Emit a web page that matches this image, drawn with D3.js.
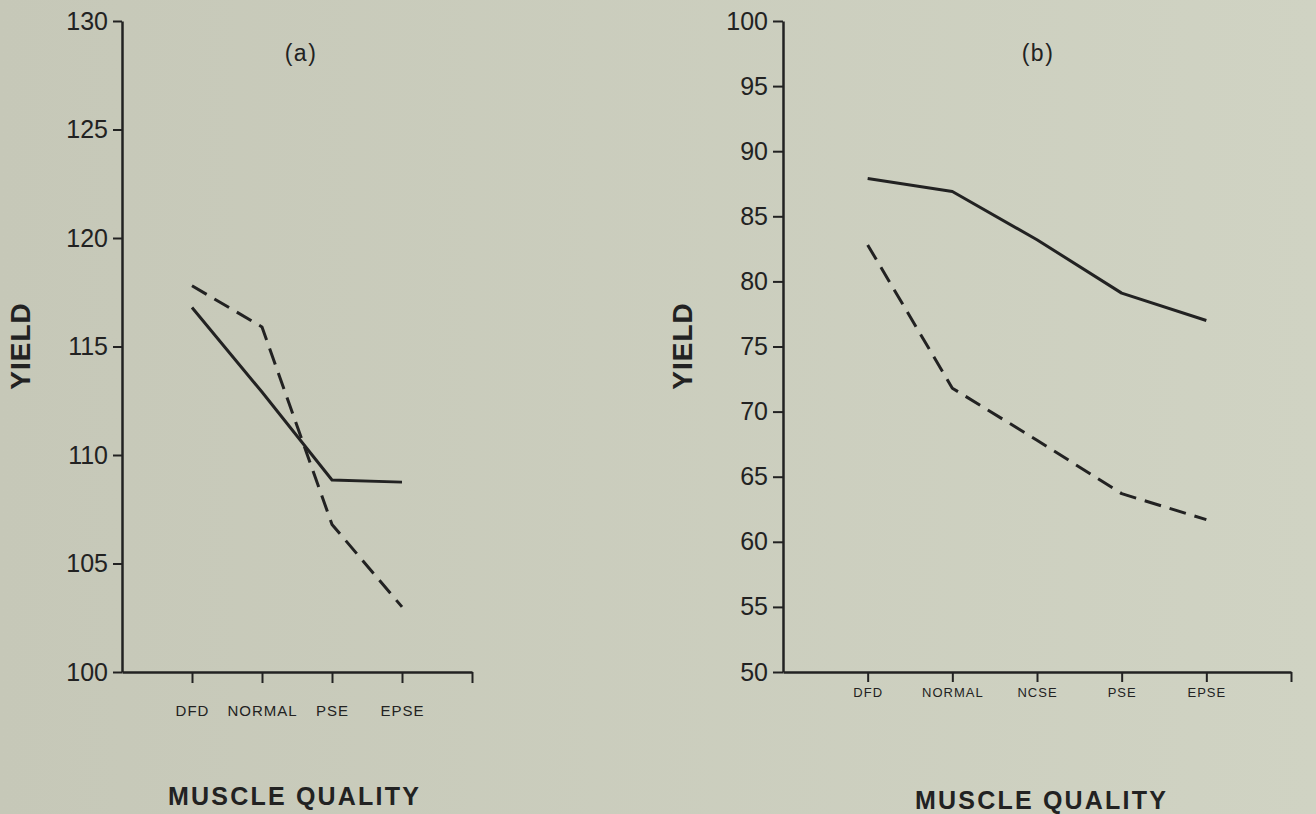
<!DOCTYPE html>
<html>
<head>
<meta charset="utf-8">
<script src="https://cdn.jsdelivr.net/npm/d3@7"></script>
<style>
  html, body { margin: 0; padding: 0; }
  body { width: 1316px; height: 814px; overflow: hidden; }
  svg { display: block; }
  text { font-family: "Liberation Sans", Arial, Helvetica, sans-serif; fill: #222; }
</style>
</head>
<body>
<svg id="chart" width="1316" height="814"></svg>
<script>
// ---- data ----
const categoriesA = ["DFD", "NORMAL", "PSE", "EPSE"];
const solidA = [116.8, 112.9, 108.85, 108.75];
const dashedA = [117.8, 115.9, 106.8, 103.0];
const yTicksA = [100, 105, 110, 115, 120, 125, 130];

const categoriesB = ["DFD", "NORMAL", "NCSE", "PSE", "EPSE"];
const solidB = [87.9, 86.9, 83.2, 79.1, 77.0];
const dashedB = [82.8, 71.8, 67.8, 63.7, 61.7];
const yTicksB = [50, 55, 60, 65, 70, 75, 80, 85, 90, 95, 100];

const svg = d3.select("#chart");
const defs = svg.append("defs");
const grad = defs.append("linearGradient").attr("id", "bg").attr("x1", 0).attr("x2", 1).attr("y1", 0).attr("y2", 0);
grad.append("stop").attr("offset", 0).attr("stop-color", "#c6c8b8");
grad.append("stop").attr("offset", 1).attr("stop-color", "#d0d3c3");
svg.append("rect").attr("width", 1316).attr("height", 814).attr("fill", "url(#bg)");

const ink = "#222";

function panel(cfg) {
  const g = svg.append("g");
  const n = cfg.categories.length;
  const x = d3.scaleLinear().domain([0, n + 1]).range([cfg.x0, cfg.x1]);
  const y = d3.scaleLinear().domain(cfg.yDomain).range([672, 21]);

  // y axis
  const yAxis = d3.axisLeft(y).tickValues(cfg.yTicks).tickSize(cfg.yTickLen).tickSizeOuter(0).tickPadding(5);
  const gy = g.append("g").attr("transform", `translate(${cfg.x0},0)`).call(yAxis);
  gy.select(".domain").attr("stroke", ink).attr("stroke-width", 2.5);
  gy.selectAll(".tick line").attr("stroke", ink).attr("stroke-width", 2);
  gy.selectAll(".tick text").attr("font-size", cfg.yFont).attr("fill", ink).attr("font-family", "Liberation Sans, Arial, sans-serif");

  // x axis
  const xTickVals = d3.range(1, n + 2);
  const xAxis = d3.axisBottom(x).tickValues(xTickVals).tickSize(cfg.xTickLen).tickSizeOuter(0)
    .tickPadding(cfg.xPad).tickFormat(i => i <= n ? cfg.categories[i - 1] : "");
  const gx = g.append("g").attr("transform", `translate(0,672)`).call(xAxis);
  gx.select(".domain").attr("stroke", ink).attr("stroke-width", 2.5);
  gx.selectAll(".tick line").attr("stroke", ink).attr("stroke-width", 2);
  gx.selectAll(".tick text").attr("font-size", cfg.xFont).attr("fill", ink)
    .attr("letter-spacing", 1).attr("font-family", "Liberation Sans, Arial, sans-serif");

  const line = d3.line().x((d, i) => x(i + 1)).y(d => y(d));
  g.append("path").datum(cfg.solid).attr("d", line).attr("fill", "none")
    .attr("stroke", ink).attr("stroke-width", 3).attr("stroke-linejoin", "round");
  g.append("path").datum(cfg.dashed).attr("d", line).attr("fill", "none")
    .attr("stroke", ink).attr("stroke-width", 3).attr("stroke-linejoin", "round")
    .attr("stroke-dasharray", "17,9");

  // panel letter
  g.append("text").attr("x", cfg.letterX).attr("y", 61).attr("text-anchor", "middle")
    .attr("font-size", 23).attr("letter-spacing", 1.5).text(cfg.letter);

  // y title
  g.append("text").attr("transform", `translate(${cfg.yTitleX},346) rotate(-90)`)
    .attr("text-anchor", "middle").attr("font-size", 28).attr("font-weight", "bold")
    .attr("letter-spacing", 1).text("YIELD");

  // x title
  g.append("text").attr("x", cfg.xTitleX).attr("y", cfg.xTitleY).attr("text-anchor", "start")
    .attr("font-size", 25).attr("font-weight", "bold").attr("letter-spacing", 2.2).text("MUSCLE QUALITY");
}

panel({
  categories: categoriesA, solid: solidA, dashed: dashedA, yTicks: yTicksA,
  yDomain: [100, 130], x0: 122, x1: 472, yTickLen: 9, xTickLen: 11, xPad: 22,
  yFont: 25, xFont: 15, letter: "(a)", letterX: 301, yTitleX: 30, xTitleX: 168, xTitleY: 805
});
panel({
  categories: categoriesB, solid: solidB, dashed: dashedB, yTicks: yTicksB,
  yDomain: [50, 100], x0: 783, x1: 1291, yTickLen: 10, xTickLen: 10, xPad: 6,
  yFont: 25, xFont: 13, letter: "(b)", letterX: 1038, yTitleX: 692, xTitleX: 915, xTitleY: 809
});
</script>
</body>
</html>
